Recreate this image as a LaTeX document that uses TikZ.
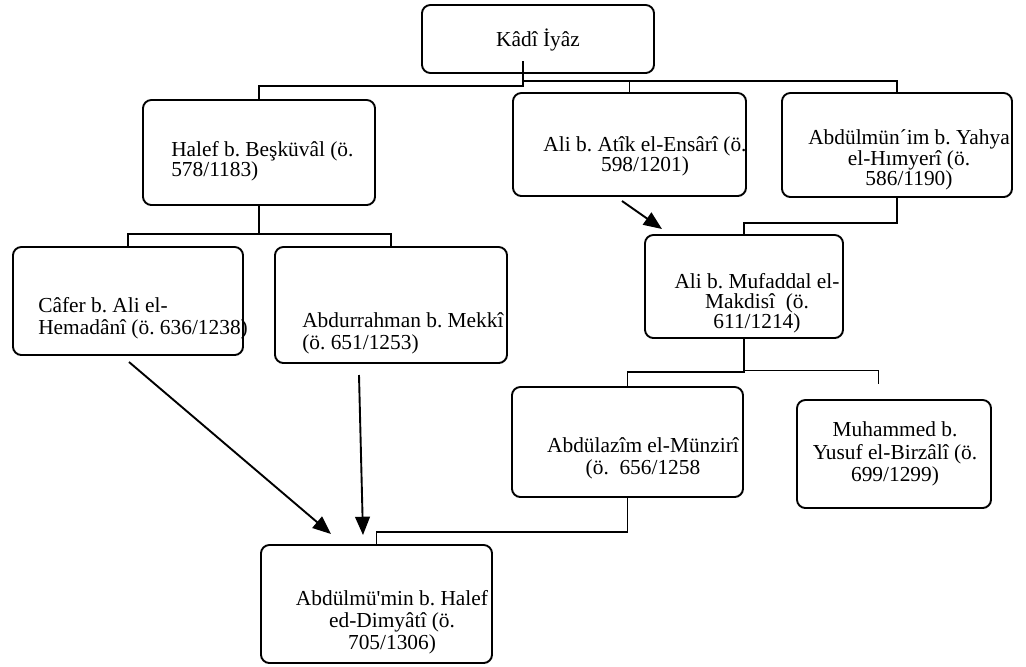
\documentclass[tikz,border=0pt]{standalone}
\usepackage{fontspec}
\setmainfont{Liberation Serif}
\usetikzlibrary{arrows.meta}
\newcommand{\tightlines}{\lineskiplimit=-20pt\relax}
\frenchspacing

\begin{document}
\begin{tikzpicture}[x=0.025cm, y=-0.025cm,
		box/.style={rectangle, rounded corners=6pt, draw, line width=1.35pt},
		who/.style={inner sep=0pt, align=center, font=\fontsize{15.2}{14.4}\selectfont\tightlines},
		loose/.style={font=\fontsize{15.2}{15.8}\selectfont\tightlines},
		link/.style={line width=1.35pt},
		arr/.style={line width=1.35pt, -{Triangle[length=13pt, width=10.5pt]}}]
		\useasboundingbox (0,0) rectangle (1026,666);

		\draw (538,39) node [box, minimum width=5.8cm, minimum height=1.7cm] (kadi) {};
		\draw (259,152.5) node [box, minimum width=5.8cm, minimum height=2.625cm] (halef) {};
		\draw (629.5,144.5) node [box, minimum width=5.825cm, minimum height=2.575cm] (atik) {};
		\draw (897,145) node [box, minimum width=5.75cm, minimum height=2.6cm] (munim) {};
		\draw (128,301) node [box, minimum width=5.75cm, minimum height=2.7cm] (cafer) {};
		\draw (391,305) node [box, minimum width=5.8cm, minimum height=2.9cm] (mekki) {};
		\draw (744,286.5) node [box, minimum width=4.95cm, minimum height=2.575cm] (mufaddal) {};
		\draw (627.5,442) node [box, minimum width=5.775cm, minimum height=2.75cm] (munziri) {};
		\draw (894,454) node [box, minimum width=4.85cm, minimum height=2.7cm] (birzali) {};
		\draw (376.5,604) node [box, minimum width=5.775cm, minimum height=2.95cm] (dimyati) {};

		% names
		\draw (538,40) node [who] (kadi-t) {Kâdî İyâz};
		\draw (171,161) node [who, align=left, anchor=west] (halef-t) {Halef b. Beşküvâl (ö.\\578/1183)};
		\draw (645,156) node [who] (atik-t) {Ali b. Atîk el-Ensârî (ö.\\598/1201)};
		\draw (909,160) node [who] (munim-t) {Abdülmün´im b. Yahya\\el-Hımyerî (ö.\\586/1190)};
		\draw (757,303) node [who] (mufaddal-t) {Ali b. Mufaddal el-\\Makdisî~ (ö.\\611/1214)};
		\draw (38,318) node [who, loose, align=left, anchor=west] (cafer-t) {Câfer b. Ali el-\\Hemadânî (ö. 636/1238)};
		\draw (302,333) node [who, loose, align=left, anchor=west] (mekki-t) {Abdurrahman b. Mekkî\\(ö. 651/1253)};
		\draw (643,458) node [who, loose] (munziri-t) {Abdülazîm el-Münzirî\\(ö.~ 656/1258};
		\draw (895,454) node [who, loose] (birzali-t) {Muhammed b.\\Yusuf el-Birzâlî (ö.\\699/1299)};
		\draw (392,622) node [who, loose] (dimyati-t) {Abdülmü\textquotesingle min b. Halef\\ed-Dimyâtî (ö.\\705/1306)};

		% junctions and free ends
		\coordinate (k1) at (523,86);
		\coordinate (k2) at (523,81);
		\coordinate (h1) at (259,234);
		\coordinate (m1) at (820,223);
		\coordinate (f1) at (744,372);
		\coordinate (f2) at (744,370);
		\coordinate (f3) at (878,384);
		\coordinate (z1) at (500,532);
		\coordinate (a1) at (622,201);
		\coordinate (a2) at (662,229);
		\coordinate (c1) at (129,362);
		\coordinate (c2) at (331,534);
		\coordinate (e1) at (359,375);
		\coordinate (e2) at (363,535);

		\draw [link, shorten <=-9pt] (k1 |- kadi.south) -- (k1) -| (halef.north);
		\draw [link] (k2) -| (munim.north) (atik.north |- k2) -- (atik.north);
		\draw [link] (halef.south) -- (h1) (cafer.north) |- (h1) -| (mekki.north);
		\draw [link] (munim.south) |- (m1) -| (mufaddal.north);
		\draw [link] (mufaddal.south) -- (f1) -| (munziri.north);
		\draw [line width=0.6pt] (f2) -| (f3);
		\draw [link] (munziri.south) |- (z1) -| (dimyati.north);
		\draw [arr] (a1) -- (a2);
		\draw [arr] (c1) -- (c2);
		\draw [arr] (e1) -- (e2);
	\end{tikzpicture}
\end{document}
